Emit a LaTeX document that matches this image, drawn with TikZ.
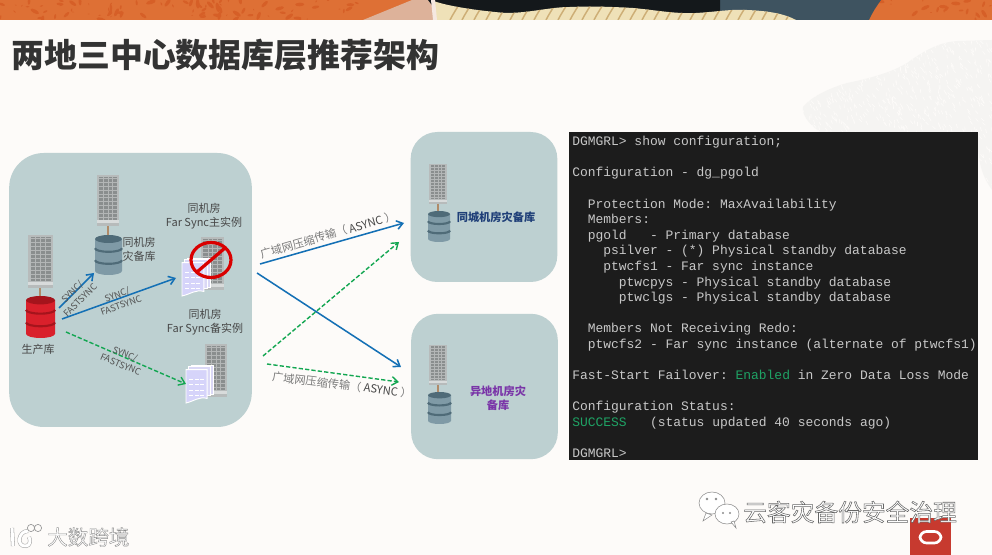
\documentclass[tikz,border=0pt]{standalone}
\usepackage{fontspec}
\usetikzlibrary{arrows.meta}
\setmainfont{Noto Sans CJK SC}
\setmonofont{Liberation Mono}
\definecolor{pagebg}{HTML}{FDFBF9}
\definecolor{panel}{HTML}{BDD0D1}
\definecolor{termbg}{HTML}{1C1C1C}
\definecolor{termfg}{HTML}{C8C8C8}
\definecolor{termgreen}{HTML}{1FA365}
\definecolor{linkblue}{HTML}{1470B5}
\definecolor{linkgreen}{HTML}{12A651}
\definecolor{orangeA}{HTML}{DE7035}
\definecolor{orangeB}{HTML}{D65F27}
\definecolor{peach}{HTML}{DDB29A}
\definecolor{creamA}{HTML}{EFE1B8}
\definecolor{creamB}{HTML}{CDAE76}
\definecolor{slate}{HTML}{3E5360}
\definecolor{nightblack}{HTML}{14181B}
\definecolor{blob}{HTML}{F5F4F2}
\definecolor{dbbody}{HTML}{7F9AA6}
\definecolor{dbdark}{HTML}{4F6B78}
\definecolor{dbred}{HTML}{D9202B}
\definecolor{dbreddark}{HTML}{A5141C}
\definecolor{stemcol}{HTML}{B08A68}
\definecolor{oratab}{HTML}{C73A2F}
\definecolor{citytxt}{HTML}{1F3F78}
\definecolor{remotetxt}{HTML}{7A35A8}
\definecolor{srvbody}{HTML}{B7BBBB}
\definecolor{srvpanel}{HTML}{8A8E8E}
\definecolor{srvgrid}{HTML}{B3B6B6}
\definecolor{srvbase}{HTML}{D8DBDB}
\definecolor{docback}{HTML}{DAD8F6}
\definecolor{docfront}{HTML}{D6D4FA}
\tikzset{
  x=0.75pt,y=-0.75pt,
  lbl/.style={font=\fontsize{8.25}{10.5}\selectfont,text=black!72,align=center,inner sep=0pt},
  synclbl/.style={font=\fontsize{6.8}{8.4}\selectfont,text=black!68,align=center,inner sep=0pt},
  wanlbl/.style={font=\fontsize{8.4}{10}\selectfont,text=black!52,inner sep=0pt},
  sitelbl/.style={font=\bfseries\fontsize{8.4}{10.5}\selectfont,align=center,inner sep=0pt},
  solidlink/.style={draw=linkblue,line width=1.15pt,-{Straight Barb[length=4.5pt,width=6.5pt]}},
  dashlink/.style={draw=linkgreen,line width=1.05pt,dash pattern=on 3.2pt off 1.6pt,-{Straight Barb[length=4.5pt,width=6.5pt]}},
  panelbox/.style={fill=panel,rounded corners=#1},
  stem/.style={draw=stemcol,line width=1.3pt},
}
\newcommand\srvdraw[4]{%
  \begin{scope}[shift={(#1,#2)},xscale=#3,yscale=#4]
    \fill[srvbody] (0,0) rectangle (1,1);
    \fill[srvpanel] (.1,.035) rectangle (.9,.875);
    \foreach \i in {0,...,10}{\draw[srvgrid,line width=.35pt] (.1,.07+\i*.075) -- (.9,.07+\i*.075);}
    \foreach \i in {1,...,3}{\draw[srvgrid,line width=.35pt] (.1+\i*.2,.035) -- (.1+\i*.2,.875);}
    \fill[srvbase] (0,.89) rectangle (1,.94);
  \end{scope}}
\newcommand\dbdraw[6]{%
  \begin{scope}[shift={(#1,#2)},xscale=#3,yscale=#4]
    \fill[#5] (0,.1) -- (0,.9) arc[start angle=180,end angle=0,x radius=.5,y radius=.1] -- (1,.1) -- cycle;
    \foreach \yy in {.33,.63}{\draw[#6,line width=1.6pt] (0,\yy) arc[start angle=180,end angle=0,x radius=.5,y radius=.09];}
    \fill[#6] (.5,.1) ellipse[x radius=.5,y radius=.1];
  \end{scope}}
\newcommand\docdraw[4]{%
  \begin{scope}[shift={(#1,#2)},xscale=#3,yscale=#4]
    \foreach \dd in {.2,.1}{%
      \filldraw[fill=docback,draw=white,line width=.5pt] (\dd,.08-\dd*.4) rectangle (.8+\dd,.85-\dd*.4);}
    \filldraw[fill=docfront,draw=white,line width=.7pt]
      (0,.12) -- (.78,.12) -- (.78,.88) .. controls (.5,.82) and (.3,.95) .. (0,1) -- cycle;
    \foreach \yy in {.38,.52,.66,.8}{%
      \draw[white,line width=.55pt,dash pattern=on 3pt off 1pt] (.12,\yy) -- (.68,\yy);}
  \end{scope}}
\begin{document}
\begin{tikzpicture}
\useasboundingbox (0,0) rectangle (992,555);
\fill[pagebg] (0,0) rectangle (992,555);
\begin{scope}
  \clip (823,134) .. controls (808,124) and (802,115) .. (803,107)
        .. controls (812,96) and (830,88) .. (847,83)
        .. controls (872,78) and (892,72) .. (907,63)
        .. controls (925,50) and (940,42) .. (958,41) -- (992,40) -- (992,190)
        .. controls (985,180) and (980,170) .. (978,150) -- (978,134) -- cycle;
  \fill[blob] (800,30) rectangle (992,200);
  \pgfmathsetseed{7}
  \foreach \i in {1,...,900}{%
    \pgfmathsetmacro\rx{800+192*rnd}\pgfmathsetmacro\ry{40+150*rnd}\pgfmathsetmacro\ra{40+50*rnd}
    \draw[pagebg,line width=.5pt] (\rx,\ry) -- ++(\ra:4);}
\end{scope}
\fill[orangeA] (0,0) rectangle (992,20);
\begin{scope}
  \clip (0,0) rectangle (992,20);
  \pgfmathsetseed{11}
  \foreach \i in {1,...,90}{%
    \pgfmathsetmacro\rx{360*rnd}\pgfmathsetmacro\ry{20*rnd}\pgfmathsetmacro\rr{1+4*rnd}\pgfmathsetmacro\ra{360*rnd}
    \fill[orangeB,rotate around={\ra:(\rx,\ry)}] (\rx,\ry) ellipse[x radius=\rr,y radius=\rr*.4];}
  \foreach \i in {1,...,22}{%
    \pgfmathsetmacro\rx{880+112*rnd}\pgfmathsetmacro\ry{20*rnd}\pgfmathsetmacro\rr{1+4*rnd}\pgfmathsetmacro\ra{360*rnd}
    \fill[orangeB,rotate around={\ra:(\rx,\ry)}] (\rx,\ry) ellipse[x radius=\rr,y radius=\rr*.4];}
  \fill[peach] (363,20) -- (412,0) -- (440,0) -- (440,20) -- cycle;
  \fill[slate] (715,0) -- (881,0) .. controls (876,7) and (872,13) .. (869,20) -- (780,20) -- (715,14) -- cycle;
  \fill[nightblack] (428,0) -- (720,0) -- (720,16) -- (440,16) -- cycle;
  \path[save path=\creampath] (431,0) .. controls (445,6) and (480,11) .. (506,13)
     .. controls (530,13) and (550,7) .. (570,7)
     .. controls (595,6) and (615,7) .. (633,8)
     .. controls (655,10) and (675,14) .. (696,13)
     .. controls (715,12) and (730,9) .. (747,10)
     .. controls (770,11) and (785,14) .. (796,20) -- (437,20) -- cycle;
  \fill[creamA,use path=\creampath];
  \begin{scope}
    \clip[use path=\creampath];
    \foreach \xx in {450,462,...,790}{\draw[creamB,line width=1.1pt] (\xx,20) .. controls (\xx+3,14) and (\xx+7,8) .. (\xx+12,0);}
  \end{scope}
  \fill[white!70!peach] (431,0) -- (435,0) -- (437,20) -- (433,20) -- cycle;
\end{scope}
\node[anchor=west,inner sep=0pt,font=\bfseries\fontsize{24.7}{28}\selectfont,text=black!80] (title) at (11,55) {两地三中心数据库层推荐架构};
\node[panelbox=26pt,minimum width=182pt,minimum height=205.5pt,inner sep=0pt] (sitemain) at (130.5,290) {};
\node[panelbox=20pt,minimum width=110pt,minimum height=112.5pt,inner sep=0pt] (sitecity) at (484,207) {};
\node[panelbox=20pt,minimum width=110pt,minimum height=109pt,inner sep=0pt] (siteremote) at (484.5,386.5) {};
\srvdraw{28}{235}{25}{53}
\draw[stem] (40,288) -- (40,297);
\dbdraw{26}{296}{29}{42}{dbred}{dbreddark}
\node[lbl] (prodlbl) at (38,349) {生产库};
\srvdraw{97}{175}{22}{51}
\draw[stem] (108,226) -- (108,236);
\dbdraw{95}{235}{27}{40}{dbbody}{dbdark}
\node[lbl] (locallbl) at (139,249) {同机房\\灾备库};
\node[lbl] (fs1lbl) at (204,216) {同机房\\Far Sync主实例};
\srvdraw{201}{237}{23}{53}
\docdraw{182}{258}{28}{38}
\draw[red!85!black,line width=2.4pt] (211,260) ellipse[x radius=20,y radius=17.5];
\draw[red!85!black,line width=2.4pt] (197,272) -- (225,248);
\node[lbl] (fs2lbl) at (205,322) {同机房\\Far Sync备实例};
\srvdraw{205}{344}{22}{53}
\docdraw{186}{365}{27}{38}
\srvdraw{429}{164}{18}{40}
\draw[stem] (438,204) -- (438,212);
\dbdraw{428}{211}{22}{31}{dbbody}{dbdark}
\node[sitelbl,text=citytxt] (citylbl) at (496,217) {同城机房灾备库};
\srvdraw{429}{345}{18}{40}
\draw[stem] (438,385) -- (438,393);
\dbdraw{428}{392}{23}{32}{dbbody}{dbdark}
\node[sitelbl,text=remotetxt] (remotelbl) at (498,398) {异地机房灾\\备库};
\coordinate (a1s) at (59,308); \coordinate (a1e) at (94,273);
\coordinate (a2s) at (62,319); \coordinate (a2e) at (176,278);
\coordinate (a3s) at (66,332); \coordinate (a3e) at (186,384);
\coordinate (a4s) at (260,264); \coordinate (a4e) at (404,223);
\coordinate (a5s) at (257,273); \coordinate (a5e) at (401,367);
\coordinate (a6s) at (263,356); \coordinate (a6e) at (399,242);
\coordinate (a7s) at (267,364); \coordinate (a7e) at (399,382);
\draw[solidlink] (a1s) -- (a1e);
\draw[solidlink] (a2s) -- (a2e);
\draw[dashlink] (a3s) -- (a3e);
\draw[solidlink] (a4s) -- (a4e);
\draw[solidlink] (a5s) -- (a5e);
\draw[dashlink] (a6s) -- (a6e);
\draw[dashlink] (a7s) -- (a7e);
\node[synclbl,rotate=45] (s1) at (76,296) {SYNC/\\FASTSYNC};
\node[synclbl,rotate=20] (s2) at (119,300) {SYNC/\\FASTSYNC};
\node[synclbl,rotate=-23] (s3) at (123,359) {SYNC/\\FASTSYNC};
\node[wanlbl,rotate=16] (w1) at (328,235) {广域网压缩传输（ \textcolor{black!72}{ASYNC} ）};
\node[wanlbl,rotate=-7] (w2) at (342,385) {广域网压缩传输（ \textcolor{black!72}{ASYNC} ）};
\node[fill=termbg,minimum width=306.75pt,minimum height=246pt,inner sep=0pt] (termbox) at (773.5,296) {};
\node[anchor=north west,inner sep=0pt,align=left,text=termfg,font=\ttfamily\fontsize{9.72}{11.7}\selectfont] (term) at (572,136) {%
DGMGRL> show configuration;\\
\mbox{}\\
Configuration - dg\textunderscore pgold\\
\mbox{}\\
~~Protection Mode: MaxAvailability\\
~~Members:\\
~~pgold~~~- Primary database\\
~~~~psilver - (*) Physical standby database\\
~~~~ptwcfs1 - Far sync instance\\
~~~~~~ptwcpys - Physical standby database\\
~~~~~~ptwclgs - Physical standby database\\
\mbox{}\\
~~Members Not Receiving Redo:\\
~~ptwcfs2 - Far sync instance (alternate of ptwcfs1)\\
\mbox{}\\
Fast-Start Failover: \textcolor{termgreen}{Enabled} in Zero Data Loss Mode\\
\mbox{}\\
Configuration Status:\\
\textcolor{termgreen}{SUCCESS}~~~(status updated 40 seconds ago)\\
\mbox{}\\
DGMGRL>};
\fill[oratab] (910,518) rectangle (951,555);
\draw[white,line width=2pt,rounded corners=5pt] (920,531.5) rectangle (941,543);
% watermarks
\filldraw[fill=white,draw=black!45,line width=.4pt] (712,503) ellipse[x radius=13,y radius=11];
\filldraw[fill=white,draw=black!45,line width=.4pt] (706,513) -- (703,521) -- (712,515) -- cycle;
\filldraw[fill=white,draw=black!45,line width=.4pt] (727,514) ellipse[x radius=12,y radius=10];
\filldraw[fill=white,draw=black!45,line width=.4pt] (731,522) -- (736,528) -- (734,521) -- cycle;
\fill[black!45] (707,499) circle (1pt) (716,499) circle (1pt) (723,513) circle (.8pt) (730,513) circle (.8pt);
\node[anchor=west,inner sep=0pt,text=white,font=\fontsize{17.8}{20}\selectfont] (wm1) at (743,512)
  {\special{pdf:code q 2 Tr 0.4 w 0.4 G 1 g}云客灾备份安全治理\special{pdf:code Q}};
\draw[black!35,line width=3pt] (12,528) -- (13,546);
\draw[white,line width=2.2pt] (12,528) -- (13,546);
\draw[black!35,line width=3pt] (28,531) .. controls (18,531) and (16,547) .. (26,546) .. controls (30,546) and (31,540) .. (29,537);
\draw[white,line width=2.2pt] (28,531) .. controls (18,531) and (16,547) .. (26,546) .. controls (30,546) and (31,540) .. (29,537);
\draw[black!40,line width=.5pt] (31,528) circle (2.7pt) (38,528) circle (2.7pt);
\node[anchor=west,inner sep=0pt,text=white,font=\fontsize{15.4}{18}\selectfont] (wm2) at (47,537)
  {\special{pdf:code q 2 Tr 0.3 w 0.55 G 1 g}大数跨境\special{pdf:code Q}};
\end{tikzpicture}
\end{document}
